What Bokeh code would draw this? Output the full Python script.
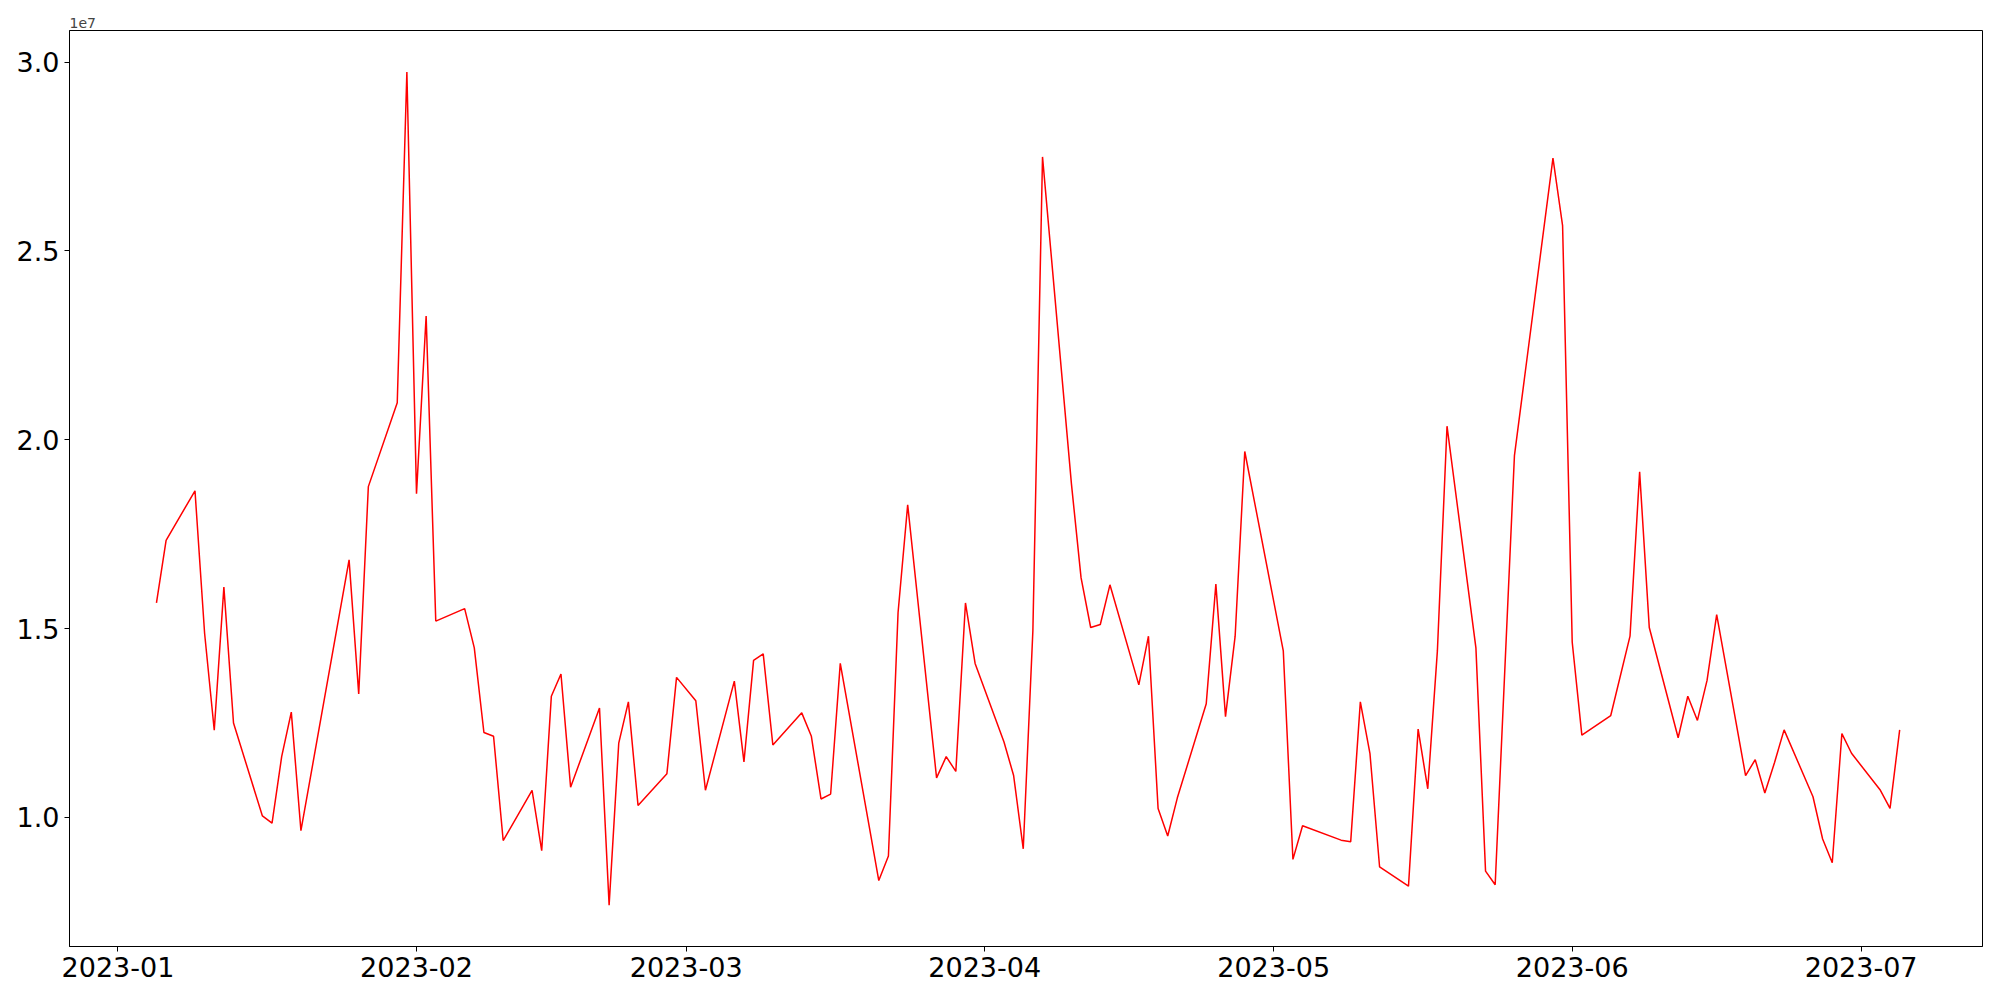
import pandas as pd
from bokeh.plotting import figure
from bokeh.models import Range1d, FixedTicker, DatetimeTickFormatter, CustomJSTickFormatter
from bokeh.embed import file_html
from bokeh.resources import INLINE

dates = [
    "2023-01-05", "2023-01-06", "2023-01-09", "2023-01-10", "2023-01-11", "2023-01-12", "2023-01-13",
    "2023-01-16", "2023-01-17", "2023-01-18", "2023-01-19", "2023-01-20", "2023-01-25", "2023-01-26",
    "2023-01-27", "2023-01-30", "2023-01-31", "2023-02-01", "2023-02-02", "2023-02-03", "2023-02-06",
    "2023-02-07", "2023-02-08", "2023-02-09", "2023-02-10", "2023-02-13", "2023-02-14", "2023-02-15",
    "2023-02-16", "2023-02-17", "2023-02-20", "2023-02-21", "2023-02-22", "2023-02-23", "2023-02-24",
    "2023-02-27", "2023-02-28", "2023-03-02", "2023-03-03", "2023-03-06", "2023-03-07", "2023-03-08",
    "2023-03-09", "2023-03-10", "2023-03-13", "2023-03-14", "2023-03-15", "2023-03-16", "2023-03-17",
    "2023-03-20", "2023-03-21", "2023-03-22", "2023-03-23", "2023-03-24", "2023-03-27", "2023-03-28",
    "2023-03-29", "2023-03-30", "2023-03-31", "2023-04-03", "2023-04-04", "2023-04-05", "2023-04-06",
    "2023-04-07", "2023-04-10", "2023-04-11", "2023-04-12", "2023-04-13", "2023-04-14", "2023-04-17",
    "2023-04-18", "2023-04-19", "2023-04-20", "2023-04-21", "2023-04-24", "2023-04-25", "2023-04-26",
    "2023-04-27", "2023-04-28", "2023-05-02", "2023-05-03", "2023-05-04", "2023-05-08", "2023-05-09",
    "2023-05-10", "2023-05-11", "2023-05-12", "2023-05-15", "2023-05-16", "2023-05-17", "2023-05-18",
    "2023-05-19", "2023-05-22", "2023-05-23", "2023-05-24", "2023-05-26", "2023-05-30", "2023-05-31",
    "2023-06-01", "2023-06-02", "2023-06-05", "2023-06-07", "2023-06-08", "2023-06-09", "2023-06-12",
    "2023-06-13", "2023-06-14", "2023-06-15", "2023-06-16", "2023-06-19", "2023-06-20", "2023-06-21",
    "2023-06-22", "2023-06-23", "2023-06-26", "2023-06-27", "2023-06-28", "2023-06-29", "2023-06-30",
    "2023-07-03", "2023-07-04", "2023-07-05",
]

values = [
    15680000, 17340000, 18650000, 14870000, 12310000, 16100000, 12500000,
    10040000, 9850000, 11610000, 12790000, 9650000, 16820000, 13270000,
    18760000, 20980000, 29740000, 18570000, 23280000, 15200000, 15530000,
    14490000, 12250000, 12150000, 9390000, 10720000, 9120000, 13210000,
    13800000, 10800000, 12900000, 7680000, 11970000, 13060000, 10320000,
    11160000, 13710000, 13090000, 10720000, 13610000, 11470000, 14160000,
    14330000, 11920000, 12770000, 12150000, 10490000, 10620000, 14080000,
    9770000, 8330000, 8980000, 15420000, 18280000, 11050000, 11610000,
    11220000, 15680000, 14080000, 12000000, 11110000, 9170000, 14950000,
    27490000, 18840000, 16350000, 15030000, 15110000, 16160000, 13510000,
    14800000, 10240000, 9510000, 10520000, 13010000, 16180000, 12670000,
    14800000, 19690000, 14410000, 8890000, 9780000, 9400000, 9360000,
    13060000, 11690000, 8690000, 8180000, 12340000, 10760000, 14410000,
    20360000, 14490000, 8580000, 8220000, 19580000, 27460000, 25670000,
    14640000, 12180000, 12700000, 14800000, 19150000, 15030000, 12110000,
    13210000, 12570000, 13630000, 15370000, 11110000, 11530000, 10650000,
    11450000, 12320000, 10550000, 9430000, 8800000, 12220000, 11700000,
    10720000, 10240000, 12320000,
]

month_ticks = ["2023-01-01", "2023-02-01", "2023-03-01", "2023-04-01",
               "2023-05-01", "2023-06-01", "2023-07-01"]
y_ticks = [10000000, 15000000, 20000000, 25000000, 30000000]

x = pd.to_datetime(dates)
day0 = pd.Timestamp("2023-01-01")
x_start = day0 - pd.Timedelta(days=5.03)
x_end = day0 + pd.Timedelta(days=193.6)

p = figure(width=1992, height=992, x_axis_type="datetime",
           output_backend="svg", toolbar_location=None,
           x_range=Range1d(x_start, x_end),
           y_range=Range1d(6584000, 30837000),
           min_border_left=69, min_border_right=10,
           min_border_top=30, min_border_bottom=46)

p.line(x, values, line_color="red", line_width=1.5)

p.title.text = "1e7"
p.title.text_font = "DejaVu Sans"
p.title.text_font_size = "14px"
p.title.text_font_style = "normal"
p.title.align = "left"
p.title.standoff = 5
p.title.offset = 0

p.xgrid.visible = False
p.ygrid.visible = False
p.outline_line_color = "black"
p.outline_line_width = 1
p.background_fill_color = "white"
p.border_fill_color = "white"

tick_ms = [pd.Timestamp(t).value // 10**6 for t in month_ticks]
p.xaxis.ticker = FixedTicker(ticks=tick_ms)
fmt = "%Y-%m"
p.xaxis.formatter = DatetimeTickFormatter(milliseconds=fmt, seconds=fmt, minsec=fmt, minutes=fmt,
                                          hourmin=fmt, hours=fmt, days=fmt, months=fmt, years=fmt)
p.yaxis.ticker = FixedTicker(ticks=y_ticks)
p.yaxis.formatter = CustomJSTickFormatter(code="return (tick/1e7).toFixed(1);")

for ax in (p.xaxis[0], p.yaxis[0]):
    ax.axis_line_color = "black"
    ax.axis_line_width = 1
    ax.major_tick_line_color = "black"
    ax.major_tick_out = 5
    ax.major_tick_in = 0
    ax.minor_tick_out = 0
    ax.minor_tick_in = 0
    ax.major_label_text_font = "DejaVu Sans"
    ax.major_label_text_font_size = "27px"
    ax.major_label_text_color = "black"
    ax.major_label_standoff = 5

open("out.html", "w").write(file_html(p, INLINE))
